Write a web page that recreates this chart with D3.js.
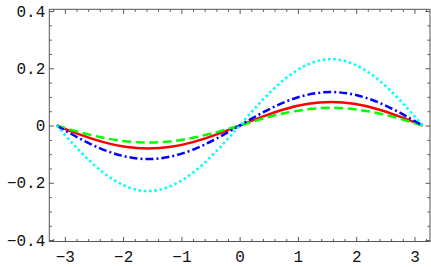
<!DOCTYPE html>
<html>
<head>
<meta charset="utf-8">
<script src="https://cdn.jsdelivr.net/npm/d3@7"></script>
<style>
  body { margin: 0; background: #fff; }
  .axis text { font-family: "Liberation Mono", monospace; font-size: 16px; fill: #111; }
  .axis path { display: none; }
  .axis line { stroke: #555; }
</style>
</head>
<body>
<div id="chart"></div>
<script>
// x positions, steps of pi/8
const xs = [-3.1416, -2.7489, -2.3562, -1.9635, -1.5708, -1.1781, -0.7854, -0.3927, 0,
            0.3927, 0.7854, 1.1781, 1.5708, 1.9635, 2.3562, 2.7489, 3.1416];

// values
const redVals   = [0, -0.031, -0.057, -0.074, -0.080, -0.074, -0.057, -0.031, 0,
                   0.031, 0.058, 0.076, 0.082, 0.076, 0.058, 0.031, 0];
const greenVals = [0, -0.023, -0.042, -0.055, -0.059, -0.055, -0.042, -0.023, 0,
                   0.024, 0.044, 0.057, 0.062, 0.057, 0.044, 0.024, 0];
const blueVals  = [0, -0.045, -0.083, -0.108, -0.117, -0.108, -0.083, -0.045, 0,
                   0.045, 0.083, 0.108, 0.117, 0.108, 0.083, 0.045, 0];
const cyanVals  = [0, -0.088, -0.162, -0.211, -0.229, -0.211, -0.162, -0.088, 0,
                   0.089, 0.164, 0.214, 0.232, 0.214, 0.164, 0.089, 0];

const xTicks = [-3, -2, -1, 0, 1, 2, 3];
const yTicks = [-0.4, -0.2, 0, 0.2, 0.4];

const series = [
    {name: "red",   values: redVals,   color: "#ff0000", dash: null},
    {name: "green", values: greenVals, color: "#00ff00", dash: "9,4.5"},
    {name: "blue",  values: blueVals,  color: "#0000ff", dash: "8,3,2,3"},
    {name: "cyan",  values: cyanVals,  color: "#00ffff", dash: "2.6,2.7"}
];

const W = 431, H = 267;
const margin = {top: 9.3, right: 1, bottom: 25.5, left: 49.3};
const width = W - margin.left - margin.right;
const height = H - margin.top - margin.bottom;

const svg = d3.select("#chart").append("svg")
    .attr("width", W)
    .attr("height", H)
    .append("g")
    .attr("transform", "translate(" + margin.left + "," + margin.top + ")");

const x = d3.scaleLinear().domain([-3.267, 3.267]).range([0, width]);
const y = d3.scaleLinear().domain([-0.405, 0.406]).range([height, 0]);

const xMinor = d3.range(-3.2, 3.21, 0.2).filter(v => Math.abs(v - Math.round(v)) > 0.01);
const yMinor = d3.range(-0.4, 0.401, 0.05).filter(v => Math.abs(v * 5 - Math.round(v * 5)) > 0.01);

// major ticks with labels
svg.append("g").attr("class", "axis")
    .attr("transform", "translate(0," + height + ")")
    .call(d3.axisBottom(x).tickValues(xTicks).tickSizeInner(-4.5).tickSizeOuter(0).tickPadding(9)
        .tickFormat(d3.format("d")));
svg.append("g").attr("class", "axis")
    .call(d3.axisLeft(y).tickValues(yTicks).tickSizeInner(-4.5).tickSizeOuter(0).tickPadding(4)
        .tickFormat(d => d === 0 ? "0" : d3.format(".1f")(d)));
svg.append("g").attr("class", "axis")
    .call(d3.axisTop(x).tickValues(xTicks).tickSizeInner(-4.5).tickSizeOuter(0).tickFormat(""));
svg.append("g").attr("class", "axis")
    .attr("transform", "translate(" + width + ",0)")
    .call(d3.axisRight(y).tickValues(yTicks).tickSizeInner(-4.5).tickSizeOuter(0).tickFormat(""));

// minor ticks
svg.append("g").attr("class", "axis")
    .attr("transform", "translate(0," + height + ")")
    .call(d3.axisBottom(x).tickValues(xMinor).tickSizeInner(-2.5).tickSizeOuter(0).tickFormat(""));
svg.append("g").attr("class", "axis")
    .call(d3.axisTop(x).tickValues(xMinor).tickSizeInner(-2.5).tickSizeOuter(0).tickFormat(""));
svg.append("g").attr("class", "axis")
    .call(d3.axisLeft(y).tickValues(yMinor).tickSizeInner(-2.5).tickSizeOuter(0).tickFormat(""));
svg.append("g").attr("class", "axis")
    .attr("transform", "translate(" + width + ",0)")
    .call(d3.axisRight(y).tickValues(yMinor).tickSizeInner(-2.5).tickSizeOuter(0).tickFormat(""));

// frame
svg.append("rect")
    .attr("x", 0).attr("y", 0)
    .attr("width", width).attr("height", height)
    .attr("fill", "none").attr("stroke", "#555").attr("stroke-width", 1);

const line = d3.line()
    .x((d, i) => x(xs[i]))
    .y(d => y(d))
    .curve(d3.curveNatural);

svg.selectAll(".curve")
    .data(series)
    .enter().append("path")
    .attr("class", "curve")
    .attr("d", d => line(d.values))
    .attr("fill", "none")
    .attr("stroke", d => d.color)
    .attr("stroke-width", 2.5)
    .attr("stroke-dasharray", d => d.dash);
</script>
</body>
</html>
